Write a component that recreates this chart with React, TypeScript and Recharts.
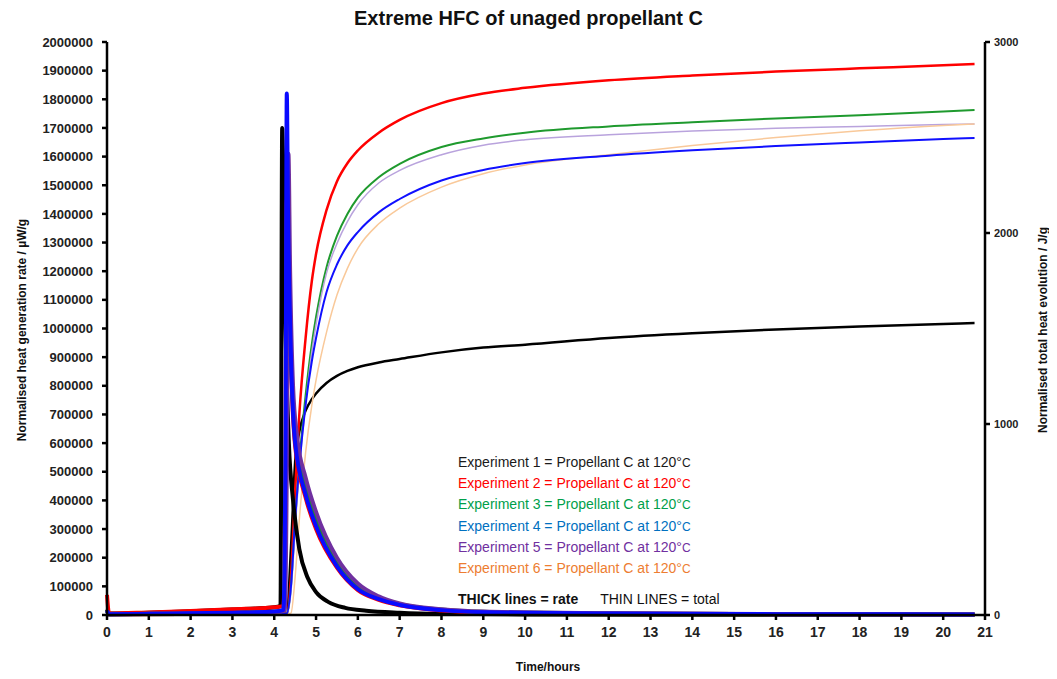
import React from 'react';
import { LineChart, Line, XAxis, YAxis } from 'recharts';

// time axis for the cumulative (thin) curves, hours
const totalTime = [0, 4, 4.3, 4.4, 4.5, 4.6, 4.75, 4.9, 5, 5.25, 5.5, 5.75, 6, 6.5, 7, 8, 9, 10, 12, 14, 16, 18, 20, 20.75];

// normalised total heat evolution, J/g
const total1 = [0, 3, 8, 350, 800, 960, 1070, 1130, 1160, 1215, 1252, 1278, 1297, 1322, 1340, 1375, 1400, 1415, 1450, 1475, 1495, 1510, 1524, 1529];
const total2 = [0, 3, 8, 200, 650, 1050, 1450, 1750, 1890, 2120, 2270, 2365, 2432, 2525, 2592, 2680, 2730, 2760, 2800, 2825, 2845, 2862, 2878, 2885];
const total3 = [0, 3, 8, 150, 500, 800, 1150, 1420, 1560, 1820, 1985, 2100, 2185, 2292, 2362, 2450, 2495, 2525, 2558, 2580, 2600, 2617, 2636, 2644];
const total4 = [0, 3, 8, 150, 500, 780, 1100, 1330, 1450, 1690, 1835, 1935, 2005, 2108, 2178, 2275, 2330, 2366, 2405, 2433, 2455, 2474, 2492, 2497];
const total5 = [0, 3, 8, 120, 450, 760, 1100, 1380, 1520, 1790, 1945, 2060, 2148, 2262, 2328, 2410, 2460, 2488, 2515, 2534, 2548, 2558, 2568, 2571];
const total6 = [0, 3, 5, 10, 200, 500, 850, 1100, 1230, 1480, 1675, 1815, 1920, 2048, 2130, 2240, 2310, 2356, 2410, 2458, 2500, 2535, 2563, 2571];

// heat generation rate (thick curves), µW/g
const rateTime1 = [0, 0.05, 1, 2, 3, 4, 4.15, 4.19, 4.21, 4.27, 4.35, 4.45, 4.6, 4.8, 5, 5.3, 5.7, 6.2, 7, 8, 10, 14, 20.75];
const rate1 = [20000, 5000, 8000, 13000, 19000, 27000, 32000, 1700000, 1600000, 1000000, 600000, 400000, 230000, 130000, 80000, 45000, 25000, 15000, 8000, 4000, 2000, 1000, 500];

const rateTime2 = [0, 0.05, 1, 2, 3, 4, 4.22, 4.27, 4.3, 4.33, 4.4, 4.5, 4.75, 5, 5.5, 6, 6.5, 7, 8, 9, 12, 16, 20.75];
const rate2 = [70000, 5000, 9000, 14000, 20000, 27000, 32000, 550000, 1450000, 1350000, 880000, 590000, 410000, 300000, 165000, 87000, 53000, 34000, 16000, 9500, 5000, 3000, 2000];

const rateTime3 = [0, 0.05, 1, 2, 3, 4, 4.22, 4.27, 4.31, 4.35, 4.42, 4.52, 4.75, 5, 5.5, 6, 6.5, 7, 8, 9, 12, 16, 20.75];
const rate3 = [15000, 3000, 4000, 5000, 7000, 11000, 16000, 500000, 1500000, 1150000, 820000, 610000, 450000, 340000, 190000, 100000, 60000, 38000, 19000, 11000, 5500, 3000, 2000];

const rateTime4 = [0, 0.05, 1, 2, 3, 4, 4.22, 4.27, 4.3, 4.33, 4.4, 4.5, 4.75, 5, 5.5, 6, 6.5, 7, 8, 9, 12, 16, 20.75];
const rate4 = [15000, 3000, 4000, 6000, 8000, 12000, 18000, 600000, 1820000, 1400000, 900000, 600000, 420000, 310000, 170000, 90000, 55000, 35000, 17000, 10000, 5000, 3000, 2000];

const rateTime5 = [0, 0.05, 1, 2, 3, 4, 4.25, 4.3, 4.34, 4.38, 4.45, 4.55, 4.75, 5, 5.5, 6, 6.5, 7, 8, 9, 12, 16, 20.75];
const rate5 = [15000, 3000, 4000, 5000, 7000, 10000, 15000, 500000, 1610000, 1200000, 800000, 620000, 480000, 360000, 200000, 110000, 65000, 40000, 20000, 12000, 6000, 3000, 2000];

const xTicks = Array.from({ length: 22 }, (_, i) => i);
const leftTicks = Array.from({ length: 21 }, (_, i) => i * 100000);
const rightTicks = [0, 1000, 2000, 3000];

const legendLines = [
  { text: 'Experiment 1 = Propellant C at 120°', color: '#1a1a1a' },
  { text: 'Experiment 2 = Propellant C at 120°', color: '#ff0000' },
  { text: 'Experiment 3 = Propellant C at 120°', color: '#00a04a' },
  { text: 'Experiment 4 = Propellant C at 120°', color: '#0070c0' },
  { text: 'Experiment 5 = Propellant C at 120°', color: '#7030a0' },
  { text: 'Experiment 6 = Propellant C at 120°', color: '#ed7d31' },
];

const toPoints = (t: number[], v: number[]) => t.map((x, i) => ({ t: x, v: v[i] }));

const thin = [
  { data: total1, color: '#000000', w: 2.5 },
  { data: total2, color: '#ff0000', w: 2.5 },
  { data: total3, color: '#1f9a2e', w: 2 },
  { data: total5, color: '#b9a3dd', w: 1.5 },
  { data: total6, color: '#f9c99a', w: 1.5 },
  { data: total4, color: '#1010ff', w: 2 },
];

const thick = [
  { t: rateTime1, data: rate1, color: '#000000' },
  { t: rateTime2, data: rate2, color: '#ff0000' },
  { t: rateTime3, data: rate3, color: '#1f8a2e' },
  { t: rateTime5, data: rate5, color: '#7030a0' },
  { t: rateTime4, data: rate4, color: '#0a0aff' },
];

const font = '"Liberation Sans", Arial, sans-serif';

export default function App() {
  return (
    <div style={{ position: 'relative', width: 1041, height: 663, fontFamily: font }}>
      <LineChart width={1041} height={663} margin={{ top: 34, right: 0, bottom: 0, left: 0 }}>
        <XAxis
          type="number"
          dataKey="t"
          domain={[0, 21]}
          ticks={xTicks}
          interval={0}
          allowDuplicatedCategory={false}
          height={56}
          stroke="#000"
          strokeWidth={2.5}
          tickSize={5}
          tickMargin={7}
          tick={{ fill: '#222', fontSize: 14, fontWeight: 'bold', fontFamily: font }}
        />
        <YAxis
          yAxisId="rate"
          orientation="left"
          domain={[0, 2000000]}
          ticks={leftTicks}
          interval={0}
          width={99}
          stroke="#000"
          strokeWidth={2.5}
          tickSize={5}
          tickMargin={9}
          tick={{ fill: '#222', fontSize: 13, fontWeight: 'bold', fontFamily: font }}
        />
        <YAxis
          yAxisId="total"
          orientation="right"
          domain={[0, 3000]}
          ticks={rightTicks}
          interval={0}
          width={64}
          stroke="#000"
          strokeWidth={2.5}
          tickSize={5}
          tickMargin={4}
          tick={{ fill: '#222', fontSize: 11, fontWeight: 'bold', fontFamily: font }}
        />
        {thin.map((s, i) => (
          <Line
            key={`total-${i}`}
            yAxisId="total"
            data={toPoints(totalTime, s.data)}
            dataKey="v"
            type="monotone"
            stroke={s.color}
            strokeWidth={s.w}
            dot={false}
            isAnimationActive={false}
          />
        ))}
        {thick.map((s, i) => (
          <Line
            key={`rate-${i}`}
            yAxisId="rate"
            data={toPoints(s.t, s.data)}
            dataKey="v"
            type="monotone"
            stroke={s.color}
            strokeWidth={4}
            strokeLinejoin="round"
            dot={false}
            isAnimationActive={false}
          />
        ))}
      </LineChart>

      <div style={{ position: 'absolute', left: 0, width: 1041, top: -1, textAlign: 'center', fontSize: 20, fontWeight: 'bold', color: '#111' }}>
        Extreme HFC of unaged propellant C
      </div>

      <div style={{ position: 'absolute', left: 14, top: 322, width: 0, height: 0 }}>
        <div style={{ position: 'absolute', transform: 'translate(-50%, -50%) rotate(-90deg)', whiteSpace: 'nowrap', fontSize: 12, fontWeight: 'bold', color: '#111' }}>
          Normalised heat generation rate / µW/g
        </div>
      </div>

      <div style={{ position: 'absolute', left: 1035, top: 322, width: 0, height: 0 }}>
        <div style={{ position: 'absolute', transform: 'translate(-50%, -50%) rotate(-90deg)', whiteSpace: 'nowrap', fontSize: 12, fontWeight: 'bold', color: '#111' }}>
          Normalised total heat evolution / J/g
        </div>
      </div>

      <div style={{ position: 'absolute', left: 540, top: 652, transform: 'translateX(-50%)', fontSize: 12, fontWeight: 'bold', color: '#111' }}>
        Time/hours
      </div>

      <div style={{ position: 'absolute', left: 450, top: 444, fontSize: 14, lineHeight: '20.2px' }}>
        {legendLines.map((l, i) => (
          <div key={i} style={{ color: l.color, whiteSpace: 'nowrap' }}>
            {l.text}
            <span style={{ fontSize: 12 }}>C</span>
          </div>
        ))}
        <div style={{ marginTop: 10, color: '#111', whiteSpace: 'nowrap' }}>
          <span style={{ fontWeight: 'bold' }}>THICK lines = rate</span>
          <span style={{ marginLeft: 22 }}>THIN LINES = total</span>
        </div>
      </div>
    </div>
  );
}
